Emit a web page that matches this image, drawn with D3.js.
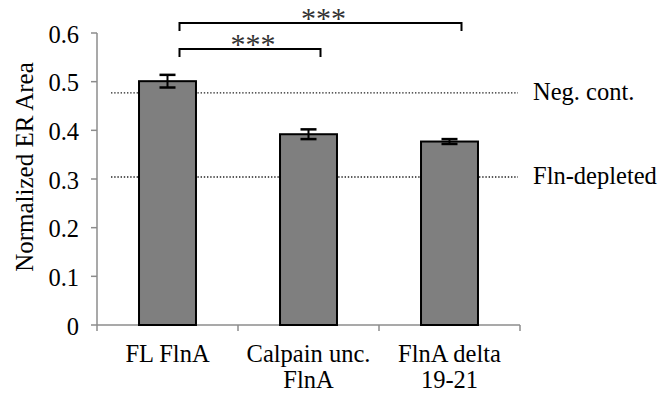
<!DOCTYPE html>
<html>
<head>
<meta charset="utf-8">
<script src="https://cdn.jsdelivr.net/npm/d3@7"></script>
<style>
  body { margin: 0; background: #fff; }
  text { font-family: "Liberation Serif", "Times New Roman", serif; fill: #000; }
</style>
</head>
<body>
<svg id="chart" width="669" height="394"></svg>
<script>
// chart values
const categories = ['FL FlnA', 'Calpain unc.\nFlnA', 'FlnA delta\n19-21'];
const means = [0.501, 0.392, 0.377];
const errors = [0.013, 0.010, 0.005];
const yTicks = [0, 0.1, 0.2, 0.3, 0.4, 0.5, 0.6];
const refLines = [
  { label: 'Neg. cont.', value: 0.477 },
  { label: 'Fln-depleted', value: 0.304 }
];
// significance brackets: from / to category index, level (0 = lower)
const brackets = [
  { from: 0, to: 1, level: 0, label: '***' },
  { from: 0, to: 2, level: 1, label: '***' }
];

const svg = d3.select('#chart');
const axisGrey = '#8c8c8c';
const fs = '24.5px';

const x = d3.scaleBand()
  .domain(d3.range(categories.length))
  .range([97, 520])
  .paddingInner(0.596)
  .paddingOuter(0.298);

const y = d3.scaleLinear()
  .domain([0, 0.6])
  .range([325, 33]);

const step = x.step();
const cx = i => x(i) + x.bandwidth() / 2;

// y axis
svg.append('line')
  .attr('x1', 97).attr('x2', 97)
  .attr('y1', y(0.6)).attr('y2', y(0))
  .attr('stroke', axisGrey).attr('stroke-width', 1.5);

svg.selectAll('.ytick')
  .data(yTicks)
  .join('line')
  .attr('class', 'ytick')
  .attr('x1', 91).attr('x2', 97)
  .attr('y1', d => y(d)).attr('y2', d => y(d))
  .attr('stroke', axisGrey).attr('stroke-width', 1.5);

svg.selectAll('.ylabel')
  .data(yTicks)
  .join('text')
  .attr('class', 'ylabel')
  .attr('x', 79)
  .attr('y', d => y(d) + 9.5)
  .attr('text-anchor', 'end')
  .style('font-size', fs)
  .text(d => d === 0 ? '0' : d3.format('.1f')(d));

// y title
svg.append('text')
  .attr('transform', 'translate(33,167) rotate(-90)')
  .attr('text-anchor', 'middle')
  .style('font-size', '25px')
  .text('Normalized ER Area');

// x axis
svg.append('line')
  .attr('x1', 97).attr('x2', 520)
  .attr('y1', y(0)).attr('y2', y(0))
  .attr('stroke', axisGrey).attr('stroke-width', 1.5);

svg.selectAll('.xtick')
  .data(d3.range(categories.length + 1))
  .join('line')
  .attr('class', 'xtick')
  .attr('x1', i => 97 + i * step).attr('x2', i => 97 + i * step)
  .attr('y1', y(0)).attr('y2', y(0) + 6)
  .attr('stroke', axisGrey).attr('stroke-width', 1.5);

// reference lines
svg.selectAll('.ref')
  .data(refLines)
  .join('line')
  .attr('class', 'ref')
  .attr('x1', 111).attr('x2', 518)
  .attr('y1', d => y(d.value)).attr('y2', d => y(d.value))
  .attr('stroke', '#222').attr('stroke-width', 1.4)
  .attr('stroke-dasharray', '1.4,1.8');

svg.selectAll('.reflabel')
  .data(refLines)
  .join('text')
  .attr('class', 'reflabel')
  .attr('x', 533)
  .attr('y', d => y(d.value) + 7)
  .style('font-size', fs)
  .text(d => d.label);

// bars
svg.selectAll('.bar')
  .data(means)
  .join('rect')
  .attr('class', 'bar')
  .attr('x', (d, i) => x(i))
  .attr('width', x.bandwidth())
  .attr('y', d => y(d))
  .attr('height', d => y(0) - y(d))
  .attr('fill', '#7f7f7f')
  .attr('stroke', '#000')
  .attr('stroke-width', 2);

// error bars
const eb = svg.selectAll('.err')
  .data(means)
  .join('g')
  .attr('class', 'err');

eb.append('line')
  .attr('x1', (d, i) => cx(i)).attr('x2', (d, i) => cx(i))
  .attr('y1', (d, i) => y(d + errors[i])).attr('y2', (d, i) => y(d - errors[i]))
  .attr('stroke', '#000').attr('stroke-width', 2);

[1, -1].forEach(s => {
  eb.append('line')
    .attr('x1', (d, i) => cx(i) - 8).attr('x2', (d, i) => cx(i) + 8)
    .attr('y1', (d, i) => y(d + s * errors[i])).attr('y2', (d, i) => y(d + s * errors[i]))
    .attr('stroke', '#000').attr('stroke-width', 2.5);
});

// category labels
svg.selectAll('.xlabel')
  .data(categories)
  .join('text')
  .attr('class', 'xlabel')
  .attr('text-anchor', 'middle')
  .style('font-size', fs)
  .each(function (d, i) {
    d3.select(this).selectAll('tspan')
      .data(d.split('\n'))
      .join('tspan')
      .attr('x', cx(i))
      .attr('y', (t, j) => 362 + j * 26)
      .text(t => t);
  });

// significance brackets
const bOff = 12;
const bracketY = [49, 23];
brackets.forEach(b => {
  const x1 = cx(b.from) + bOff;
  const x2 = cx(b.to) + bOff;
  const by = bracketY[b.level];
  svg.append('path')
    .attr('d', `M${x1},${by + 8}V${by}H${x2}V${by + 8}`)
    .attr('fill', 'none')
    .attr('stroke', '#000')
    .attr('stroke-width', 2);
  svg.append('text')
    .attr('x', (x1 + x2) / 2 + 3)
    .attr('y', by + 5)
    .attr('text-anchor', 'middle')
    .style('font-size', '30px')
    .style('fill', '#333')
    .text(b.label);
});
</script>
</body>
</html>
